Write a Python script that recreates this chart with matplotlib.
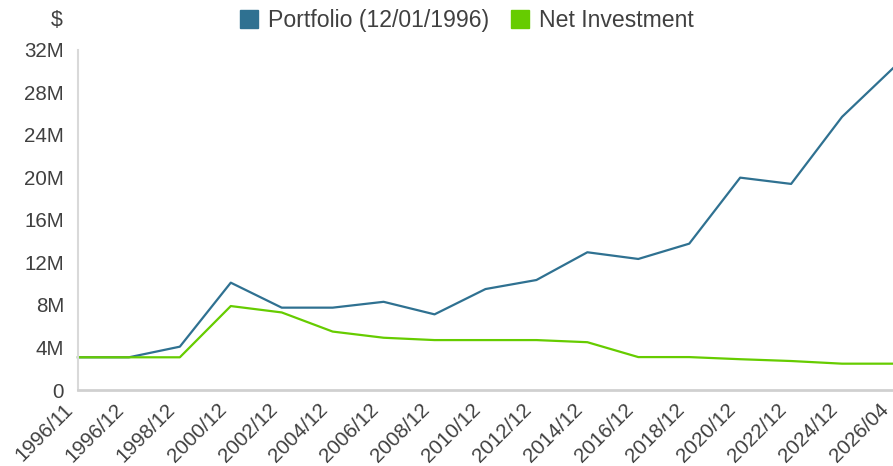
import matplotlib
matplotlib.use('Agg')
import matplotlib.pyplot as plt
import matplotlib.transforms as mtransforms
from matplotlib.ticker import FuncFormatter
from matplotlib.lines import Line2D

plt.rcParams['font.family'] = ['Liberation Sans', 'DejaVu Sans']

dates = ['1996/11', '1996/12', '1998/12', '2000/12', '2002/12', '2004/12',
         '2006/12', '2008/12', '2010/12', '2012/12', '2014/12', '2016/12',
         '2018/12', '2020/12', '2022/12', '2024/12', '2026/04']
# values in millions of $
portfolio = [3.08, 3.08, 4.08, 10.1, 7.75, 7.75, 8.3, 7.12, 9.5, 10.35,
             12.96, 12.33, 13.77, 19.98, 19.39, 25.7, 30.27]
net_invest = [3.08, 3.08, 3.08, 7.9, 7.3, 5.5, 4.92, 4.7, 4.7, 4.7,
              4.5, 3.1, 3.1, 2.9, 2.73, 2.48, 2.48]

blue = '#2f7191'
green = '#66cc00'
txt = '#404040'

fig = plt.figure(figsize=(8.93, 4.66), dpi=100)
ax = fig.add_axes([0.0873, 0.163, 0.9127, 0.73])

x = range(len(dates))
ax.plot(x, portfolio, color=blue, lw=1.6, clip_on=False)
ax.plot(x, net_invest, color=green, lw=1.6, clip_on=False)

ax.set_xlim(0, len(dates) - 1)
ax.set_ylim(0, 32)
ax.set_yticks(range(0, 33, 4))
ax.yaxis.set_major_formatter(FuncFormatter(lambda v, p: '0' if v == 0 else '%dM' % v))
ax.set_xticks(list(x))
ax.set_xticklabels(dates, rotation=45, ha='right', va='center', rotation_mode='anchor')

ax.tick_params(axis='both', length=0, labelsize=14.8, labelcolor=txt)
ax.tick_params(axis='y', pad=10)
ax.tick_params(axis='x', pad=12)

# nudge the rotated date labels a bit to the left
shift = mtransforms.ScaledTranslation(-0.075, 0, fig.dpi_scale_trans)
for lab in ax.get_xticklabels():
    lab.set_transform(lab.get_transform() + shift)

for s in ['top', 'right']:
    ax.spines[s].set_visible(False)
ax.spines['left'].set_color('#d9d9d9')
ax.spines['left'].set_linewidth(1.5)
ax.spines['bottom'].set_color('#d0d0d0')
ax.spines['bottom'].set_linewidth(2)

fig.text(0.064, 0.957, '$', fontsize=15.5, color=txt, ha='center', va='center')

handles = [Line2D([], [], marker='s', ls='', color=blue, markersize=13),
           Line2D([], [], marker='s', ls='', color=green, markersize=13)]
fig.legend(handles, ['Portfolio (12/01/1996)', 'Net Investment'],
           loc='center', bbox_to_anchor=(0.522, 0.955), ncol=2, frameon=False,
           fontsize=16.6, labelcolor=txt, handletextpad=0.35, columnspacing=0.9,
           handlelength=0.9)

fig.savefig('out.png', dpi=100)
